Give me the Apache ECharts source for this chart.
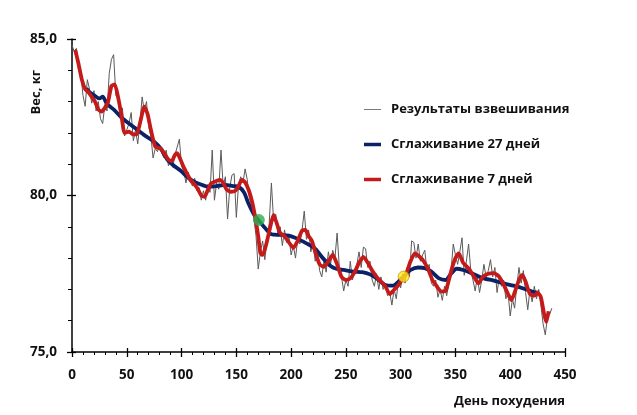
<!DOCTYPE html>
<html>
<head>
<meta charset="utf-8">
<script src="https://cdn.jsdelivr.net/npm/echarts@6/dist/echarts.min.js"></script>
<style>html,body{margin:0;padding:0;background:#fff}#c{width:637px;height:415px}</style>
</head>
<body>
<div id="c"></div>
<script>
// raw weighings, one value every 2 days starting at day 0
const rawStep = 2;
const rawValues = [
84.80,84.60,84.70,84.00,83.90,83.20,82.85,83.70,83.40,82.95,
83.35,82.70,83.00,82.45,82.30,82.90,82.70,83.90,84.35,84.50,
83.20,83.10,82.50,82.80,81.90,82.10,82.30,82.65,81.75,82.10,
81.65,82.30,83.15,82.70,83.00,82.20,81.90,81.20,81.50,81.40,
81.60,81.35,81.20,81.45,80.95,81.10,80.90,81.30,81.55,81.80,
80.95,80.80,80.40,80.75,80.45,80.30,80.55,80.15,80.25,79.85,
80.15,79.85,80.35,80.10,81.45,79.85,80.40,80.20,81.45,80.30,
80.60,79.25,80.25,80.65,80.70,79.30,80.35,80.60,80.40,80.85,
80.50,79.90,79.70,79.30,78.70,77.65,78.20,78.55,77.95,78.60,
79.10,80.40,79.20,79.40,78.70,79.00,78.40,78.90,78.50,78.70,
78.10,78.40,78.00,78.60,78.45,78.90,79.50,78.60,78.90,78.20,
78.50,77.90,78.30,77.60,77.40,77.90,77.55,78.20,77.80,78.25,
78.00,78.80,77.70,77.40,76.95,77.30,77.10,77.90,77.30,77.60,
77.80,78.20,77.70,78.35,78.30,77.70,77.90,77.30,77.10,77.50,
77.00,77.40,77.00,77.20,76.80,76.90,76.50,77.00,76.70,77.30,
77.05,77.50,77.20,77.70,77.40,78.55,78.50,78.00,78.45,77.90,
78.10,78.25,77.60,77.80,77.20,77.10,77.30,76.75,77.00,76.65,
77.10,76.80,77.20,77.60,78.45,78.10,77.80,78.20,78.65,77.45,
77.90,78.45,77.60,77.30,76.95,77.40,76.90,77.30,77.80,77.40,
77.60,77.95,77.40,77.70,76.90,77.40,77.10,77.30,76.70,76.90,
76.15,76.70,76.40,77.10,77.70,77.20,77.60,76.90,76.35,77.00,
76.60,77.10,76.70,77.00,76.50,75.90,75.55,76.10,76.20,76.40
];

const smooth27Days = [13,16,20,25,28,32,38,46,52,60,66,75,81,87,93,99,105,111,117,124,132,140,147,152,157,161,166,170,176,182,190,198,205,214,221,229,236,242,248,257,265,272,279,286,293,298,303,309,316,322,328,335,341,346,351,357,366,375,385,394,403,412,420,425];
const smooth27Values = [83.42,83.30,83.21,83.10,83.16,82.92,82.75,82.46,82.30,82.09,81.93,81.72,81.50,81.15,80.95,80.80,80.60,80.45,80.36,80.28,80.30,80.34,80.30,80.28,80.10,79.75,79.40,79.22,78.97,78.76,78.74,78.72,78.63,78.47,78.33,78.00,77.75,77.65,77.62,77.57,77.55,77.48,77.33,77.14,77.12,77.25,77.42,77.62,77.70,77.68,77.57,77.35,77.30,77.50,77.66,77.62,77.50,77.36,77.28,77.19,77.12,77.03,76.93,76.90];

const smooth7Days = [3,6,9,12,15,18,21,24,27,30,33,36,39,42,45,48,52,56,59,62,66,69,72,76,81,85,88,91,94,96,99,102,105,108,111,115,118,121,124,127,131,135,138,141,145,149,152,155,158,161,164,167,170,172,174,177,181,184,187,190,194,198,202,206,210,213,216,219,222,226,230,234,238,242,246,250,254,258,262,266,270,274,278,282,286,290,293,297,301,305,309,313,317,321,325,329,333,337,341,344,347,350,353,357,362,366,371,375,380,385,390,394,398,401,404,408,411,414,418,422,425,428,431,433,435];
const smooth7Values = [84.65,84.20,83.70,83.40,83.30,83.15,83.00,82.75,82.68,82.80,83.00,83.50,83.55,83.15,82.60,82.00,82.04,81.95,81.95,82.30,82.84,82.60,82.10,81.56,81.50,81.30,81.15,81.10,81.30,81.35,81.15,80.90,80.70,80.50,80.39,80.20,80.00,79.96,80.18,80.39,80.45,80.50,80.40,80.20,80.12,80.15,80.30,80.50,80.42,80.20,79.86,79.35,78.70,78.15,78.10,78.40,79.00,79.38,79.10,78.80,78.70,78.50,78.33,78.55,78.88,78.90,78.70,78.55,78.20,77.80,77.72,77.90,78.10,77.80,77.40,77.30,77.35,77.55,77.85,78.04,77.85,77.60,77.40,77.25,77.10,76.85,76.95,77.10,77.30,77.50,77.90,78.15,78.05,77.90,77.65,77.30,77.10,76.93,76.95,77.30,77.70,78.00,78.15,77.85,77.67,77.46,77.19,77.40,77.50,77.52,77.40,77.15,76.85,76.66,76.90,77.30,77.46,77.25,76.85,76.80,76.90,76.75,76.20,75.96,76.30];

const markerDays = [170.6, 302.7];
const markerValues = [79.22, 77.41];
const markerColors = ['#2fae4e', '#ffe81a'];

const xTicks = {min: 0, max: 450, step: 50};
const yTicks = {min: 75, max: 85, step: 5};

const seriesNames = ['Результаты взвешивания', 'Сглаживание 27 дней', 'Сглаживание 7 дней'];
const legendIcons = ['path://M0,0L17,0L17,1L0,1Z', 'path://M0,0L17,0L17,3.5L0,3.5Z', 'path://M0,0L17,0L17,3.5L0,3.5Z'];

const pair = (xs, ys) => xs.map((x, i) => [x, ys[i]]);
const rawData = rawValues.map((v, i) => [i * rawStep, v]);

const FONT = '"Open Sans","Noto Sans",sans-serif';
const TXT = '#111';
const chart = echarts.init(document.getElementById('c'), null, {renderer: 'canvas'});
const hiddenAxisX = {
  type: 'value', min: xTicks.min, max: xTicks.max, interval: xTicks.step, position: 'bottom',
  axisLine: {show: false}, axisLabel: {show: false}, splitLine: {show: false},
  axisTick: {show: true, inside: true, length: 4, lineStyle: {color: '#000', width: 1.3}}
};
const hiddenAxisY = {
  type: 'value', min: yTicks.min, max: yTicks.max, interval: yTicks.step, position: 'left',
  axisLine: {show: false}, axisLabel: {show: false}, splitLine: {show: false},
  axisTick: {show: true, inside: true, length: 4, lineStyle: {color: '#000', width: 1.3}}
};
chart.setOption({
  animation: false,
  backgroundColor: '#fff',
  grid: {left: 72, right: 72, top: 39, bottom: 63, containLabel: false},
  legend: {
    orient: 'vertical', left: 359, top: 98,
    itemWidth: 17, itemHeight: 14, itemGap: 22,
    data: seriesNames.map((n, i) => ({name: n, icon: legendIcons[i]})),
    textStyle: {fontFamily: FONT, fontWeight: 'bold', fontSize: 13, color: TXT, padding: [0, 0, 0, 5]}
  },
  xAxis: [{
    type: 'value', min: xTicks.min, max: xTicks.max, interval: xTicks.step,
    name: 'День похудения', nameLocation: 'end', nameGap: 0,
    nameTextStyle: {fontFamily: FONT, fontWeight: 'bold', fontSize: 13, color: TXT, align: 'right', verticalAlign: 'top', padding: [43, 0, 0, 0]},
    axisLine: {lineStyle: {color: '#000', width: 1.5}},
    axisTick: {length: 5, lineStyle: {color: '#000', width: 1.3}},
    minorTick: {show: true, splitNumber: 5, length: 3, lineStyle: {color: '#000', width: 1}},
    splitLine: {show: false},
    axisLabel: {margin: 16, fontFamily: FONT, fontWeight: 'bold', fontSize: 13.5, color: TXT}
  }, hiddenAxisX],
  yAxis: [{
    type: 'value', min: yTicks.min, max: yTicks.max, interval: yTicks.step,
    axisLine: {show: true, lineStyle: {color: '#000', width: 1.5}},
    axisTick: {show: true, length: 5, lineStyle: {color: '#000', width: 1.3}},
    minorTick: {show: true, splitNumber: 5, length: 4, lineStyle: {color: '#000', width: 1}},
    splitLine: {show: false},
    axisLabel: {margin: 15, fontFamily: FONT, fontWeight: 'bold', fontSize: 13.5, color: TXT,
      formatter: v => v.toFixed(1).replace('.', ',')}
  }, hiddenAxisY],
  graphic: [{
    type: 'text', left: 30, top: 70, rotation: Math.PI / 2,
    style: {text: 'Вес, кг', font: 'bold 13px ' + FONT, fill: TXT}
  }],
  series: [
    {name: seriesNames[0], type: 'line', data: rawData, symbol: 'none',
      lineStyle: {color: '#5a5a5a', width: 1}, itemStyle: {color: '#7a7a7a'}, z: 2},
    {name: seriesNames[1], type: 'line', data: pair(smooth27Days, smooth27Values), symbol: 'none', smooth: 0.25,
      lineStyle: {color: '#0b2366', width: 3.8}, itemStyle: {color: '#0b2366'}, z: 3},
    {name: seriesNames[2], type: 'line', data: pair(smooth7Days, smooth7Values), symbol: 'none', smooth: 0.2,
      lineStyle: {color: '#c41a1a', width: 3.8}, itemStyle: {color: '#c41a1a'}, z: 4},
    {name: 'markers', type: 'scatter', symbolSize: 11, z: 5,
      data: markerDays.map((d, i) => ({value: [d, markerValues[i]],
        itemStyle: {color: markerColors[i], borderColor: i === 1 ? '#b08000' : markerColors[i], borderWidth: 0.8}}))}
  ]
});
</script>
</body>
</html>
